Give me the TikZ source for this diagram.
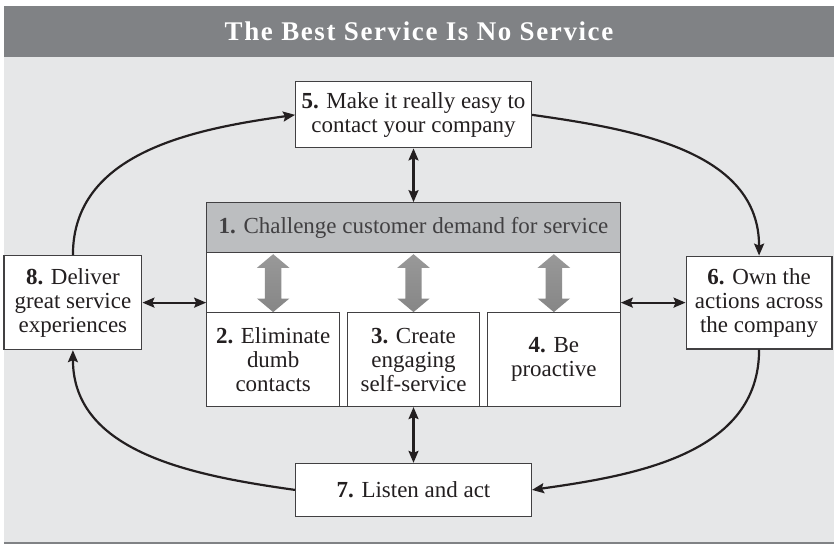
\documentclass[tikz,border=0pt]{standalone}
\usepackage{fontspec}
\setmainfont{Liberation Serif}
\newfontfamily\titlefont[LetterSpace=6]{Liberation Serif}
\usetikzlibrary{positioning,shapes.arrows,arrows.meta}
\definecolor{bar}{HTML}{808285}
\definecolor{bg}{HTML}{E6E7E8}
\definecolor{hdr}{HTML}{BCBEC0}
\definecolor{ink}{HTML}{231F20}
\definecolor{edge}{HTML}{414042}

\begin{document}
\begin{tikzpicture}[x=1pt,y=1pt,>={Stealth[length=12pt,width=10pt,inset=2pt]},
  box/.style={draw=edge, line width=1.2pt, fill=white, align=center, text=ink, inner sep=0pt,
    font=\fontsize{23}{24}\selectfont},
  link/.style={<->, line width=2.2pt, ink},
  loop/.style={->, line width=2.2pt, ink},
  fat/.style={double arrow, rotate=90, inner xsep=0pt, inner ysep=8pt, minimum height=58pt,
    minimum width=32pt, double arrow head extend=8pt, double arrow tip angle=100,
    top color=gray!80, middle color=gray!25, bottom color=gray!95}]

\fill[white] (0,0) rectangle (835,545);
\fill[bg] (4,2) rectangle (835,488);
\fill[bar] (4,488) rectangle (835,539);
\draw[bar, line width=2pt] (4,1) -- (835,1);

\path
(419.5,513.5) node[text=white, font={\titlefont\fontsize{27}{30}\selectfont\bfseries}] (title) {The Best Service Is No Service}

(414,430)   node[box, minimum width=236, minimum height=66] (P5) {\textbf{5.} Make it really easy to\\ contact your company}
(414,240)   node[box, minimum width=414, minimum height=204] (outer) {}
(414,317)   node[box, fill=hdr, text=edge, minimum width=414, minimum height=50] (P1) {\textbf{1.} Challenge customer demand for service}

(273.5,185) node[box, minimum width=133, minimum height=94] (P2) {\textbf{2.} Eliminate\\ dumb\\ contacts}
(414,185)   node[box, minimum width=132, minimum height=94] (P3) {\textbf{3.} Create\\ engaging\\ self-service}
(554.5,185) node[box, minimum width=133, minimum height=94] (P4) {\textbf{4.} Be\\ proactive}

(273.5,261.5) node[fat] (A2) {}
(414,261.5)   node[fat] (A3) {}
(554.5,261.5) node[fat] (A4) {}

(73,242)    node[box, minimum width=138, minimum height=94] (P8) {\textbf{8.} Deliver\\ great service\\ experiences}
(760,242)   node[box, minimum width=146, minimum height=93] (P6) {\textbf{6.} Own the\\ actions across\\ the company}
(414,54.5)  node[box, minimum width=236, minimum height=53] (P7) {\textbf{7.} Listen and act};

\draw[link] (P5) -- (P1);
\draw[link] (outer) -- (P7);
\draw[link] (P8.east) -- (P8.east -| outer.west);
\draw[link] (P6.west -| outer.east) -- (P6.west);

\draw[loop] (P8.north) to[out=90,in=188] (P5.west);
\draw[loop] (P5.east) to[out=-8,in=90] (P6.north);
\draw[loop] (P6.south) to[out=-90,in=8] (P7.east);
\draw[loop] (P7.west) to[out=172,in=-90] (P8.south);
\end{tikzpicture}
\end{document}
